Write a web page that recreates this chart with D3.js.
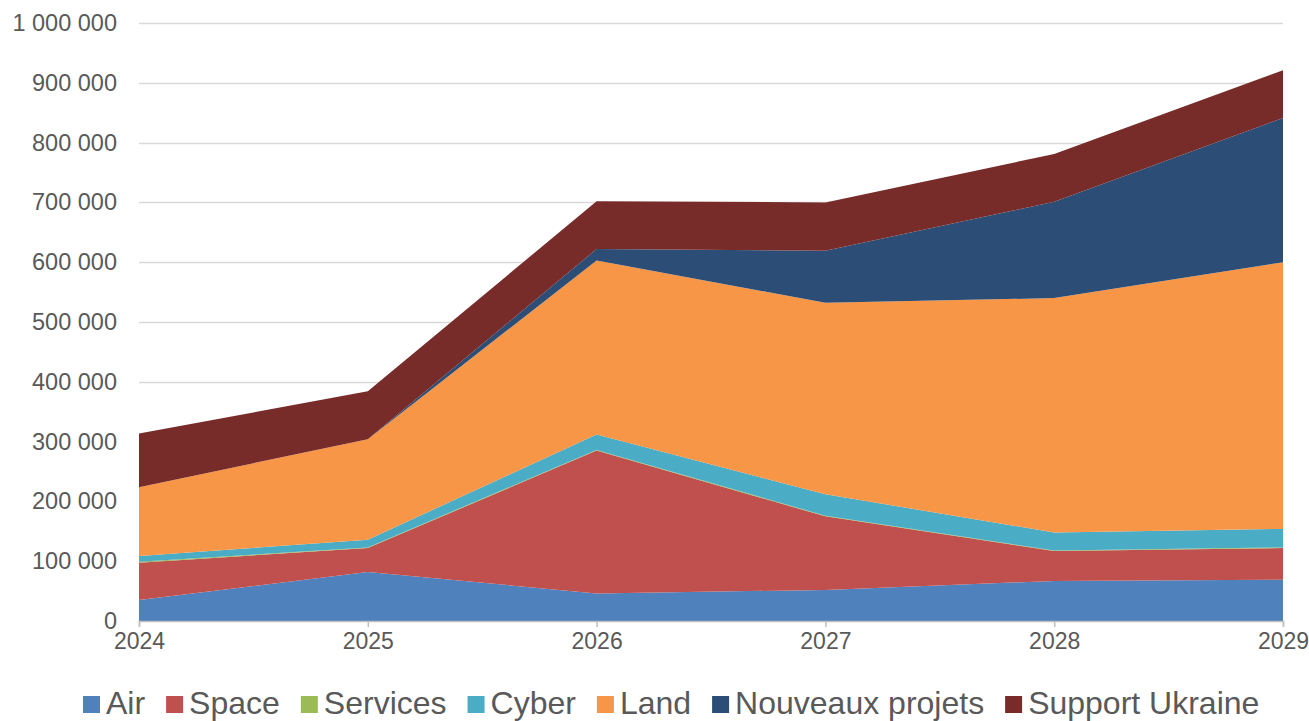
<!DOCTYPE html>
<html>
<head>
<meta charset="utf-8">
<script src="https://cdn.jsdelivr.net/npm/d3@7"></script>
<style>
  html, body { margin: 0; padding: 0; background: #fff; }
  svg { display: block; font-family: "Liberation Sans", Arial, sans-serif; }
</style>
</head>
<body>
<svg id="chart" width="1309" height="721"></svg>
<script>
// Budget by domain, stacked, 2024–2029
const years = [2024, 2025, 2026, 2027, 2028, 2029];
const air       = [35000, 82000, 46000, 52000, 67000, 69000];
const space     = [62500, 40000, 239000, 123000, 50000, 53000];
const services  = [1500, 1000, 1000, 1000, 1000, 1000];
const cyber     = [9700, 13000, 26000, 36000, 30000, 31000];
const land      = [115000, 168000, 291000, 320000, 392000, 446000];
const nouveaux  = [0, 0, 19000, 87000, 161000, 241000];
const ukraine   = [90000, 80000, 80000, 81000, 80000, 80000];

const seriesNames = ["Air", "Space", "Services", "Cyber", "Land", "Nouveaux projets", "Support Ukraine"];
const seriesValues = [air, space, services, cyber, land, nouveaux, ukraine];
const seriesColors = ["#4F81BD", "#C0504D", "#9BBB59", "#4BACC6", "#F79646", "#2C4D75", "#772C2A"];
const yTicks = [0, 100000, 200000, 300000, 400000, 500000, 600000, 700000, 800000, 900000, 1000000];

const rows = years.map((yr, i) => {
  const r = { year: yr };
  seriesNames.forEach((n, k) => { r[n] = seriesValues[k][i]; });
  return r;
});

const svg = d3.select("#chart");
const margin = { left: 139, right: 26, top: 23, bottom: 100 };
const W = 1309, H = 721;
const x = d3.scaleLinear().domain([2024, 2029]).range([margin.left, W - margin.right]);
const y = d3.scaleLinear().domain([0, 1000000]).range([H - margin.bottom, margin.top]);

const fmt = d3.formatLocale({ decimal: ",", thousands: "\u00a0", grouping: [3], currency: ["", ""] }).format(",d");
const textColor = "#595959";

// horizontal gridlines
svg.append("g")
  .selectAll("line")
  .data(yTicks.filter(d => d > 0))
  .join("line")
  .attr("x1", x(2024)).attr("x2", x(2029))
  .attr("y1", d => Math.round(y(d)) + 0.5).attr("y2", d => Math.round(y(d)) + 0.5)
  .attr("stroke", "#d9d9d9").attr("stroke-width", 1.5);

// stacked areas
const stack = d3.stack().keys(seriesNames);
const layers = stack(rows);
const area = d3.area()
  .x(d => x(d.data.year))
  .y0(d => y(d[0]))
  .y1(d => y(d[1]));

svg.append("g")
  .selectAll("path")
  .data(layers)
  .join("path")
  .attr("d", area)
  .attr("fill", (d, i) => seriesColors[i]);

// y axis labels
const yAxis = d3.axisLeft(y).tickValues(yTicks).tickFormat(fmt).tickSize(0).tickPadding(22);
const gy = svg.append("g").attr("transform", `translate(${margin.left},0)`).call(yAxis);
gy.select(".domain").remove();
gy.selectAll("text").attr("fill", textColor).attr("font-size", 23.5)
  .attr("font-family", "'Liberation Sans', Arial, sans-serif");

// x axis
const xAxis = d3.axisBottom(x).tickValues(years).tickFormat(d3.format("d")).tickSize(6).tickPadding(6);
const gx = svg.append("g").attr("transform", `translate(0,${y(0)})`).call(xAxis);
gx.select(".domain").attr("stroke", "#bfbfbf").attr("stroke-width", 1.5);
gx.selectAll(".tick line").attr("stroke", "#bfbfbf").attr("stroke-width", 1.5);
gx.selectAll("text").attr("fill", textColor).attr("font-size", 23)
  .attr("font-family", "'Liberation Sans', Arial, sans-serif");

// legend
const legend = svg.append("g").attr("transform", "translate(83,0)");
let cx = 0;
seriesNames.forEach((name, i) => {
  const g = legend.append("g").attr("transform", `translate(${cx},0)`);
  g.append("rect").attr("x", 0).attr("y", 696).attr("width", 17).attr("height", 17).attr("fill", seriesColors[i]);
  const t = g.append("text").attr("x", 23).attr("y", 713.5)
    .attr("font-size", 32).attr("fill", textColor).text(name);
  const w = t.node().getComputedTextLength();
  cx += 23 + w + 21;
});
</script>
</body>
</html>
